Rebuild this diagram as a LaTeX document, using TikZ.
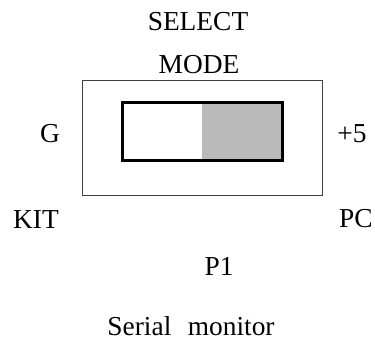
\documentclass[tikz,border=0pt]{standalone}
\usepackage{fontspec}
\setmainfont{Liberation Serif}
\usepackage{tikz}
\usetikzlibrary{positioning,calc}

\begin{document}
\begin{tikzpicture}[x=1bp,y=-1bp,font=\fontsize{27.5}{32}\selectfont,
  lbl/.style={anchor=base,inner sep=0pt},
  frame/.style={draw=black!75,line width=1bp},
  knob/.style={draw=black,line width=3bp}]
\useasboundingbox (0,0) rectangle (375,340);
% selector housing and slide switch
\draw[frame] (82,80.5) rectangle (322,195.5);
\fill[black!27] (202,102) rectangle (282,160);
\draw[knob] (122,102) rectangle (282,160);
% labels round the switch
\node[lbl] (sel)   at (198,30)  {SELECT};
\node[lbl] (mode)  at (199,73)  {MODE};
\node[lbl] (gnd)   at (50,142)  {G};
\node[lbl] (vcc)   at (352,142) {+5};
\node[lbl] (kit)   at (36,228)  {KIT};
\node[lbl] (pc)    at (356,227) {PC};
\node[lbl] (pone)  at (219,275) {P1};
\node[lbl] (mon)   at (191,335) {Serial\hspace{0.6em}monitor};
\end{tikzpicture}
\end{document}
